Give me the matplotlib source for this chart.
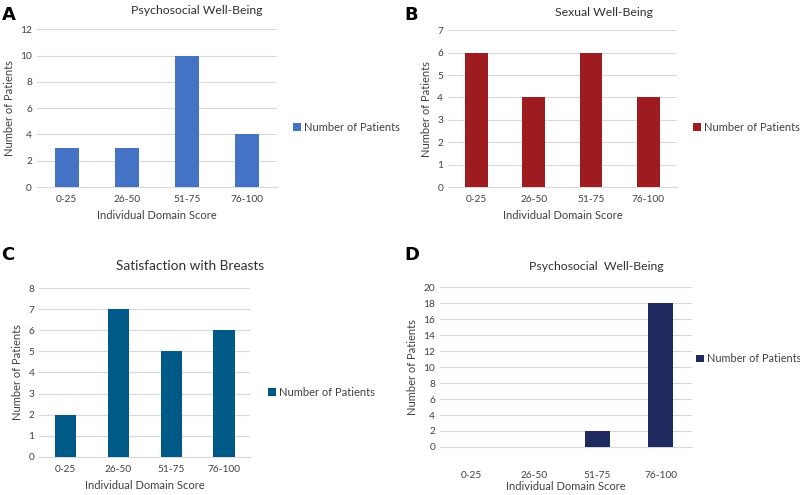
import numpy as np
import matplotlib.pyplot as plt

plt.rcParams['font.family'] = ['Lato', 'DejaVu Sans']

categories = ['0-25', '26-50', '51-75', '76-100']

# patient counts per panel
psycho_a = [3, 3, 10, 4]
sexual_b = [6, 4, 6, 4]
breasts_c = [2, 7, 5, 6]
psycho_d = [0, 0, 2, 18]

titles = ['Psychosocial Well-Being', 'Sexual Well-Being',
          'Satisfaction with Breasts', 'Psychosocial  Well-Being']
letters = ['A', 'B', 'C', 'D']
colors = ['#4472C4', '#9E1B20', '#005A87', '#1F2A5E']
ymax = [12, 7, 8, 20]
ystep = [2, 1, 1, 2]

# axes boxes in figure fractions
boxes = [[0.046, 0.622, 0.300, 0.319],
         [0.560, 0.622, 0.286, 0.317],
         [0.049, 0.077, 0.264, 0.341],
         [0.550, 0.097, 0.315, 0.323]]
legend_pos = [(0.366, 0.743), (0.866, 0.743), (0.335, 0.208), (0.870, 0.275)]
letter_pos = [(0.002, 0.97), (0.505, 0.97), (0.002, 0.485), (0.505, 0.485)]
title_pos = [(0.246, 0.979), (0.755, 0.975), (0.238, 0.463), (0.746, 0.461)]
title_size = [8.8, 8.8, 9.8, 8.8]
legend_size = [8, 8, 8, 7.8]

fig = plt.figure(figsize=(8, 4.95), dpi=100)
data = [psycho_a, sexual_b, breasts_c, psycho_d]

for i in range(4):
    ax = fig.add_axes(boxes[i])
    x = np.arange(len(categories))
    ax.bar(x, data[i], width=0.4, color=colors[i], label='Number of Patients',
           zorder=3)
    ax.set_xlim(-0.5, 3.5)
    ax.set_ylim(0, ymax[i])
    ax.set_yticks(np.arange(0, ymax[i] + 1, ystep[i]))
    ax.set_xticks(x)
    ax.set_xticklabels(categories)
    ax.grid(axis='y', color='#D9D9D9', linewidth=0.8, zorder=0)
    for s in ['top', 'right', 'left']:
        ax.spines[s].set_visible(False)
    ax.spines['bottom'].set_color('#D9D9D9')
    ax.tick_params(length=0, labelsize=7.3, colors='#404040')
    if i == 3:
        ax.tick_params(axis='x', pad=17)
        lp = 1
    else:
        ax.tick_params(axis='x', pad=6)
        lp = 4
    ax.set_xlabel('Individual Domain Score', fontsize=8, color='#404040',
                  labelpad=lp)
    ax.set_ylabel('Number of Patients', fontsize=8, color='#404040',
                  labelpad=4)
    fig.text(title_pos[i][0], title_pos[i][1], titles[i],
             fontsize=title_size[i], color='#303030', ha='center', va='center')
    ax.legend(loc='center left', bbox_to_anchor=legend_pos[i],
              bbox_transform=fig.transFigure, frameon=False,
              fontsize=legend_size[i], borderpad=0, borderaxespad=0,
              handlelength=0.7, handleheight=0.7, handletextpad=0.3,
              labelcolor='#404040')
    fig.text(letter_pos[i][0], letter_pos[i][1], letters[i], fontsize=13,
             fontweight='bold', ha='left', va='center', family='DejaVu Sans')

fig.savefig('out.png', dpi=100)
